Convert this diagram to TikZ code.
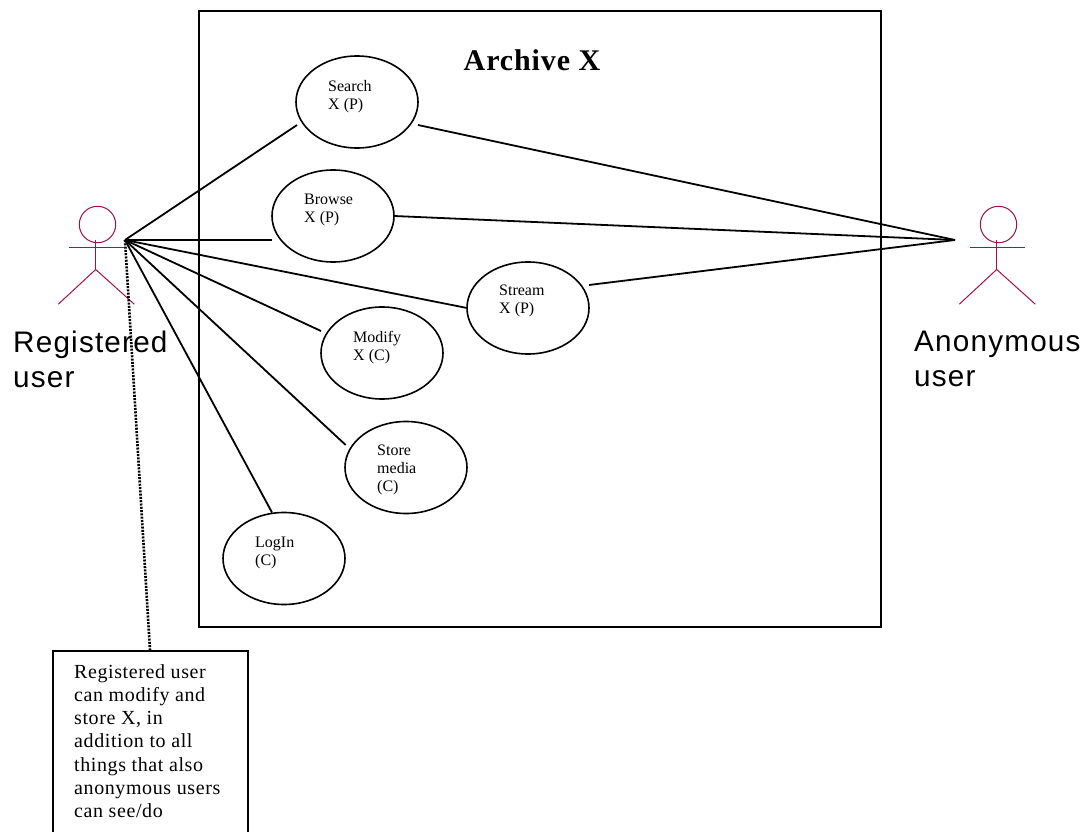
\documentclass[tikz,border=0pt]{standalone}
\usepackage{fontspec}
\usepackage{xcolor}
\setmainfont{Liberation Serif}
\newfontfamily\actorfont[LetterSpace=4]{Liberation Sans}
\newfontfamily\titlefont[LetterSpace=3]{Liberation Serif}
\newfontfamily\notefont[LetterSpace=3]{Liberation Serif}
\usetikzlibrary{positioning, shapes, calc}
\definecolor{actorred}{HTML}{A5104C}
\tikzset{
  usecase/.style={draw, ellipse, line width=1.6pt, minimum width=122pt, minimum height=92pt, inner sep=0pt, outer sep=0pt},
  casetext/.style={anchor=north west, align=left, inner sep=0pt, font=\fontsize{16}{18}\selectfont},
  actorlabel/.style={anchor=north west, align=left, inner sep=0pt, font=\actorfont\fontsize{29.7}{35}\selectfont},
  link/.style={line width=1.8pt},
  actor/.pic={
    \draw[actorred, line width=1pt] (0,0) circle (18.2);
    \draw[actorred, line width=1pt] (-28.5,23.3) -- (26.2,23.3);
    \draw[actorred, line width=1pt] (-1.8,15.7) -- (-1.8,45);
    \draw[actorred, line width=1pt] (-39.2,79.7) -- (-1.8,45) -- (36.8,79.7);
  }
}
\begin{document}
\begin{tikzpicture}[x=1pt, y=-1pt]
  \useasboundingbox (0,0) rectangle (1088,832);
  \clip (0,0) rectangle (1088,832);
  % System boundary
  \node[draw, line width=1.8pt, minimum width=682pt, minimum height=616pt, inner sep=0pt, outer sep=0pt] (archive) at (540,319) {};
  \node[anchor=base, inner sep=0pt, font=\titlefont\bfseries\fontsize{30}{32}\selectfont] (title) at (532,71) {Archive X};

  % Actors
  \pic at (97.5,224.5) {actor};
  \pic at (998.5,224.5) {actor};
  \coordinate (reghand) at (125,240);
  \coordinate (anonhand) at (955,240);
  \node[actorlabel] (reglabel) at (13,330.5) {Registered\\user};
  \node[actorlabel] (anonlabel) at (914,330.5) {Anonymous\\user};

  % Use cases
  \node[usecase] (search) at (357,102) {};
  \node[usecase] (browse) at (333,216) {};
  \node[usecase] (stream) at (528,308) {};
  \node[usecase] (modify) at (382,353) {};
  \node[usecase] (store) at (406,467.5) {};
  \node[usecase] (login) at (284,558.5) {};
  \node[casetext] (searchtext) at (328,80) {Search\\X (P)};
  \node[casetext] (browsetext) at (304,194) {Browse\\X (P)};
  \node[casetext] (streamtext) at (499,285) {Stream\\X (P)};
  \node[casetext] (modifytext) at (353,331) {Modify\\X (C)};
  \node[casetext] (storetext) at (377,445) {Store\\media\\(C)};
  \node[casetext] (logintext) at (255,537) {LogIn\\(C)};

  % Note
  \node[draw, line width=1.8pt, anchor=north west, minimum width=194.7pt, minimum height=200pt, inner sep=0pt, outer sep=0pt] (note) at (53,651) {};
  \node[anchor=north west, align=left, inner sep=0pt, font=\notefont\fontsize{20}{23.3}\selectfont] (notetext) at (74,664) {Registered user\\can modify and\\store X, in\\addition to all\\things that also\\anonymous users\\can see/do};
  \coordinate (notetop) at (150,650);

  % Registered user links
  \draw[link] (reghand) -- ([shift={(1pt,-23pt)}]search.west);
  \draw[link] (reghand) -- ([yshift=-24pt]browse.west);
  \draw[link] (reghand) -- (stream.west);
  \draw[link] (reghand) -- ([yshift=22pt]modify.west);
  \draw[link] (reghand) -- ([shift={(0.7pt,22.5pt)}]store.west);
  \draw[link] (reghand) -- ([xshift=-12pt]login.north);
  \draw[line width=2.6pt, dash pattern=on 2pt off 1.3pt] (reghand) -- (notetop);

  % Anonymous user links
  \draw[link] (anonhand) -- ([yshift=-23pt]search.east);
  \draw[link] (anonhand) -- (browse.east);
  \draw[link] (anonhand) -- ([yshift=23pt]stream.east);
\end{tikzpicture}
\end{document}
